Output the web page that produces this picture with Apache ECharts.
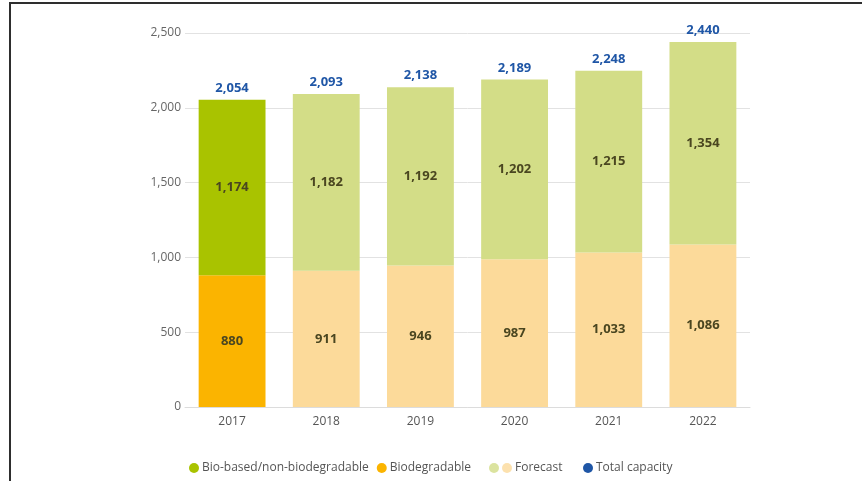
<!DOCTYPE html>
<html>
<head>
<meta charset="utf-8">
<script src="https://cdn.jsdelivr.net/npm/echarts@6/dist/echarts.min.js"></script>
<style>
  html, body { margin: 0; padding: 0; background: #fff; }
  .frame { position: absolute; left: 9px; top: 2px; width: 851px; height: 490px;
           border-left: 2px solid #2e2e2e; border-top: 2px solid #2e2e2e; pointer-events: none; }
  #chart { width: 868px; height: 481px; }
</style>
</head>
<body>
<div id="chart"></div>
<div class="frame"></div>
<script>
const years = ['2017', '2018', '2019', '2020', '2021', '2022'];
const biodegradable = [880, 911, 946, 987, 1033, 1086];
const bioBased = [1174, 1182, 1192, 1202, 1215, 1354];
const totals = [2054, 2093, 2138, 2189, 2248, 2440];
const yTicks = [0, 500, 1000, 1500, 2000, 2500];
const firstForecast = 1; // ab hier Prognose-Farben

const GREEN = '#a9c300';
const ORANGE = '#fbb400';
const GREEN_FC = '#d3dd87';
const ORANGE_FC = '#fcda9a';
const BLUE = '#1f56a6';
const FONT = '"Open Sans", sans-serif';

const fmt = (v) => v.toLocaleString('en-US');

const colored = (arr, c, cFc) => arr.map((v, i) => ({
  value: v,
  itemStyle: { color: i < firstForecast ? c : cFc }
}));

const forecastIcon = 'image://data:image/svg+xml;utf8,' + encodeURIComponent(
  '<svg xmlns="http://www.w3.org/2000/svg" width="23" height="10">' +
  '<circle cx="5" cy="5" r="5" fill="' + GREEN_FC + '"/>' +
  '<circle cx="18" cy="5" r="5" fill="' + ORANGE_FC + '"/></svg>'
);

const innerLabel = {
  show: true,
  position: 'inside',
  color: '#4a4620',
  fontWeight: 'bold',
  fontSize: 13,
  fontFamily: FONT,
  formatter: (p) => fmt(p.value)
};

const legendBase = {
  top: 457,
  itemHeight: 10,
  itemGap: 8,
  selectedMode: false,
  textStyle: { color: '#555', fontSize: 12, fontFamily: FONT, padding: [0, 0, 0, -2] }
};

const chart = echarts.init(document.getElementById('chart'));
chart.setOption({
  animation: false,
  textStyle: { fontFamily: FONT },
  grid: { left: 185, right: 118, top: 33, bottom: 74 },
  legend: [
    Object.assign({}, legendBase, {
      left: 184,
      itemWidth: 10,
      data: [
        { name: 'Bio-based/non-biodegradable', icon: 'circle', itemStyle: { color: GREEN } },
        { name: 'Biodegradable', icon: 'circle', itemStyle: { color: ORANGE } }
      ]
    }),
    Object.assign({}, legendBase, {
      left: 484,
      itemWidth: 23,
      data: [{ name: 'Forecast', icon: forecastIcon }]
    }),
    Object.assign({}, legendBase, {
      left: 578,
      itemWidth: 10,
      data: [{ name: 'Total capacity', icon: 'circle', itemStyle: { color: BLUE, opacity: 1 } }]
    })
  ],
  xAxis: {
    type: 'category',
    data: years,
    axisLine: { lineStyle: { color: '#dcdcdc' } },
    axisTick: { show: false },
    axisLabel: { color: '#555', fontSize: 12, margin: 9 }
  },
  yAxis: {
    type: 'value',
    min: yTicks[0],
    max: yTicks[yTicks.length - 1],
    interval: 500,
    axisLine: { show: false },
    axisTick: { show: false },
    axisLabel: { color: '#666', fontSize: 12, margin: 4, formatter: (v) => fmt(v) },
    splitLine: { lineStyle: { color: '#e2e2e2' } }
  },
  series: [
    {
      name: 'Biodegradable',
      type: 'bar',
      stack: 'cap',
      barWidth: '71%',
      data: colored(biodegradable, ORANGE, ORANGE_FC),
      label: innerLabel
    },
    {
      name: 'Bio-based/non-biodegradable',
      type: 'bar',
      stack: 'cap',
      data: colored(bioBased, GREEN, GREEN_FC),
      label: innerLabel
    },
    {
      name: 'Total capacity',
      type: 'scatter',
      symbolSize: 0,
      data: totals,
      itemStyle: { color: BLUE, opacity: 1 },
      label: {
        show: true,
        position: 'top',
        distance: 5,
        color: BLUE,
        fontWeight: 'bold',
        fontSize: 13,
        fontFamily: FONT,
        formatter: (p) => fmt(p.value)
      }
    },
    { name: 'Forecast', type: 'scatter', data: [], itemStyle: { color: ORANGE_FC } }
  ]
});
</script>
</body>
</html>
